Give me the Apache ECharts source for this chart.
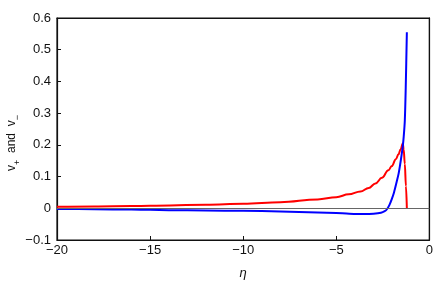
<!DOCTYPE html>
<html><head><meta charset="utf-8">
<script src="https://cdn.jsdelivr.net/npm/echarts@6/dist/echarts.min.js"></script>
<style>html,body{margin:0;padding:0;background:#fff}#c{width:436px;height:286px}</style>
</head><body><div id="c"></div>
<script>
// v+ (blue)
const etaPlus = [-20,-18,-16,-15,-14,-12,-10,-8,-6,-5,-4.3,-3.5,-3.0,-2.6,-2.4,-2.28,-2.15,-2.02,-1.9,-1.75,-1.65,-1.57,-1.5,-1.43,-1.38,-1.32,-1.27,-1.21];
const vPlus   = [-0.002,-0.003,-0.004,-0.005,-0.006,-0.007,-0.008,-0.010,-0.013,-0.015,-0.017,-0.018,-0.017,-0.014,-0.009,-0.003,0.010,0.029,0.050,0.085,0.110,0.138,0.165,0.195,0.225,0.276,0.381,0.555];
// v- (red)
const etaMinus = [-20,-18,-16,-15,-12,-10,-8,-6,-5,-4.33,-3.7,-3.26,-2.9,-2.55,-2.2,-2.02,-1.8,-1.66,-1.55,-1.43,-1.38,-1.32,-1.26,-1.21];
const vMinus   = [0.005,0.006,0.007,0.008,0.011,0.014,0.019,0.028,0.035,0.044,0.053,0.064,0.078,0.096,0.120,0.133,0.155,0.170,0.185,0.204,0.185,0.140,0.070,0.000];
const xTicks = [-20,-15,-10,-5,0];
const yTicks = [-0.1,0,0.1,0.2,0.3,0.4,0.5,0.6];
const yTitle = '{v|v}{s|+}{v|  and  v}{s|\u2212}';

const fmt = v => { const r = Math.round(v*10)/10; return r === 0 ? '0' : String(r).replace('-', '\u2212'); };
const pairs = (xs, ys) => xs.map((x,i) => [x, ys[i]]);
const chart = echarts.init(document.getElementById('c'), null, {renderer:'canvas'});
const F = 'Liberation Sans, Arial, sans-serif';
const C = '#111';
const frame = {type:'value',axisLine:{show:true,onZero:false,lineStyle:{color:C,width:1.2}},
  axisTick:{show:false},axisLabel:{show:false},splitLine:{show:false}};
chart.setOption({
  animation:false,
  grid:{left:57,right:5,top:18,bottom:46,containLabel:false,
    show:true,borderColor:C,borderWidth:1.2,backgroundColor:'transparent'},
  graphic:[{type:'text',left:6,top:'middle',z:10,
    style:{text:yTitle,fill:C,font:'12px '+F,
      rich:{v:{fontFamily:F,fontSize:12,fill:C,lineHeight:14,verticalAlign:'top'},
            s:{fontFamily:F,fontSize:9,fill:C,lineHeight:10,padding:[7,0,0,0],verticalAlign:'top'}}},
    rotation:Math.PI/2, y:-12}],
  xAxis:[{type:'value',min:xTicks[0],max:xTicks[xTicks.length-1],interval:5,position:'bottom',
    name:'\u03b7',nameLocation:'middle',nameGap:27,
    nameTextStyle:{fontFamily:F,fontSize:13,fontStyle:'italic',color:C},
    axisLine:{show:true,onZero:false,lineStyle:{color:C,width:1.2}},
    axisTick:{show:true,inside:true,length:4,lineStyle:{color:C,width:1}},
    axisLabel:{formatter:fmt,fontFamily:F,fontSize:13,color:C,margin:4},
    splitLine:{show:false}},
    Object.assign({},frame,{position:'top',min:xTicks[0],max:xTicks[xTicks.length-1]})],
  yAxis:[{type:'value',min:yTicks[0],max:yTicks[yTicks.length-1],interval:0.1,position:'left',
    axisLine:{show:true,onZero:false,lineStyle:{color:C,width:1.2}},
    axisTick:{show:true,inside:true,length:4,lineStyle:{color:C,width:1}},
    axisLabel:{formatter:fmt,fontFamily:F,fontSize:13,color:C,margin:6},
    splitLine:{show:false}},
    Object.assign({},frame,{position:'right',min:yTicks[0],max:yTicks[yTicks.length-1]})],
  series:[
    {type:'line',data:pairs(etaMinus,vMinus),showSymbol:false,smooth:0.4,smoothMonotone:'x',
      lineStyle:{color:'#ff0000',width:2},z:3,
      markLine:{silent:true,symbol:'none',label:{show:false},lineStyle:{color:'#666',width:1,type:'solid'},data:[{yAxis:0}]}},
    {type:'line',data:pairs(etaPlus,vPlus),showSymbol:false,smooth:0.3,
      lineStyle:{color:'#0000ff',width:2},z:4}
  ]
});
</script></body></html>
